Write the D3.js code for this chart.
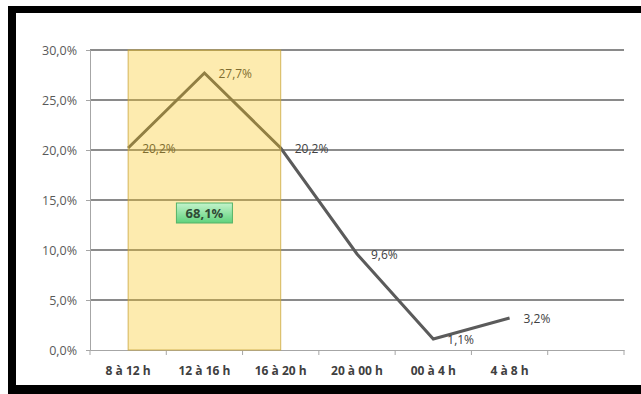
<!DOCTYPE html>
<html>
<head>
<meta charset="utf-8">
<script src="https://cdn.jsdelivr.net/npm/d3@7"></script>
<style>
  html, body { margin: 0; padding: 0; background: #fff; }
  svg { display: block; }
  text { font-family: "Open Sans", "Lato", sans-serif; }
</style>
</head>
<body>
<svg id="chart" width="641" height="394"></svg>
<script>
// Share of events by 4-hour time slot
const categories = ["8 à 12 h", "12 à 16 h", "16 à 20 h", "20 à 00 h", "00 à 4 h", "4 à 8 h", ""];
const values = [20.2, 27.7, 20.2, 9.6, 1.1, 3.2];
const yTicks = [0, 5, 10, 15, 20, 25, 30];
// Highlighted slots (first to last index) whose shares are summed
const highlight = [0, 2];

const fr = d3.formatLocale({ decimal: ",", thousands: " ", grouping: [3], currency: ["", " €"] });
const fmt1 = fr.format(".1f");
const pct = v => fmt1(v) + "%";

const svg = d3.select("#chart");
const W = 641, H = 394;
const plot = { left: 90, right: 624, top: 50, bottom: 350 };

const x = d3.scaleBand().domain(d3.range(categories.length)).range([plot.left, plot.right]).padding(0);
const y = d3.scaleLinear().domain([0, 30]).range([plot.bottom, plot.top]);
const cx = i => x(i) + x.bandwidth() / 2;

// Gridlines
svg.append("g").selectAll("line").data(yTicks.filter(t => t > 0)).join("line")
  .attr("x1", plot.left).attr("x2", plot.right)
  .attr("y1", d => y(d)).attr("y2", d => y(d))
  .attr("stroke", d => d === 20 ? "#1a1a1a" : "#8a8a8a")
  .attr("stroke-width", d => d === 20 ? 1.2 : 2);

// Y axis
const yAxis = d3.axisLeft(y).tickValues(yTicks).tickFormat(pct).tickSize(4).tickPadding(9);
const gy = svg.append("g").attr("transform", `translate(${plot.left},0)`).call(yAxis);
gy.select(".domain").attr("stroke", "#a6a6a6");
gy.selectAll(".tick line").attr("stroke", "#a6a6a6");
gy.selectAll(".tick text").attr("fill", "#595959").style("font-size", "12.5px");

// X axis
const xAxis = d3.axisBottom(x).tickFormat(i => categories[i]).tickSize(0).tickPadding(16);
const gx = svg.append("g").attr("transform", `translate(0,${plot.bottom})`).call(xAxis);
gx.select(".domain").attr("stroke", "#a6a6a6").attr("stroke-width", 1.2);
gx.selectAll(".tick text").attr("fill", "#404040").style("font-size", "12px").style("font-weight", "bold");
// band boundary ticks
gx.append("g").selectAll("line").data(d3.range(categories.length + 1)).join("line")
  .attr("x1", i => plot.left + i * x.bandwidth()).attr("x2", i => plot.left + i * x.bandwidth())
  .attr("y1", 0).attr("y2", 5).attr("stroke", "#a6a6a6");

// Line
const line = d3.line().x((d, i) => cx(i)).y(d => y(d));
svg.append("path").datum(values)
  .attr("d", line).attr("fill", "none")
  .attr("stroke", "#5b5b5b").attr("stroke-width", 3).attr("stroke-linejoin", "miter");

// Data labels
svg.append("g").selectAll("text").data(values).join("text")
  .attr("x", (d, i) => cx(i) + 14)
  .attr("y", d => y(d) + 1)
  .attr("dy", "0.35em")
  .attr("fill", "#404040")
  .style("font-size", "12px")
  .text(d => pct(d));

// Highlight band over the peak slots
const hx0 = cx(highlight[0]), hx1 = cx(highlight[1]);
svg.append("rect")
  .attr("x", hx0).attr("y", y(30))
  .attr("width", hx1 - hx0).attr("height", y(0) - y(30))
  .attr("fill", "rgb(250, 196, 20)").attr("fill-opacity", 0.34)
  .attr("stroke", "rgb(200, 165, 60)").attr("stroke-opacity", 0.8).attr("stroke-width", 1);

// Total of the highlighted slots
const total = d3.sum(values.slice(highlight[0], highlight[1] + 1));
const grad = svg.append("defs").append("linearGradient")
  .attr("id", "greenGrad").attr("x1", 0).attr("y1", 0).attr("x2", 0).attr("y2", 1);
grad.append("stop").attr("offset", "0%").attr("stop-color", "#c4f3cc");
grad.append("stop").attr("offset", "100%").attr("stop-color", "#5fd27c");
const bx = cx(1), by = 213;
svg.append("rect")
  .attr("x", bx - 28).attr("y", by - 10).attr("width", 56).attr("height", 20)
  .attr("fill", "url(#greenGrad)").attr("stroke", "#55b368").attr("stroke-width", 1);
svg.append("text")
  .attr("x", bx).attr("y", by).attr("dy", "0.35em")
  .attr("text-anchor", "middle")
  .attr("fill", "#2f4a35").style("font-size", "13px").style("font-weight", "bold")
  .text(pct(total));

// Frame
svg.append("rect").attr("x", 8).attr("y", 6).attr("width", W - 8).attr("height", 7).attr("fill", "#000");
svg.append("rect").attr("x", 8).attr("y", 6).attr("width", 8).attr("height", H - 6).attr("fill", "#000");
svg.append("rect").attr("x", 8).attr("y", 385).attr("width", W - 8).attr("height", H - 385).attr("fill", "#000");
</script>
</body>
</html>
